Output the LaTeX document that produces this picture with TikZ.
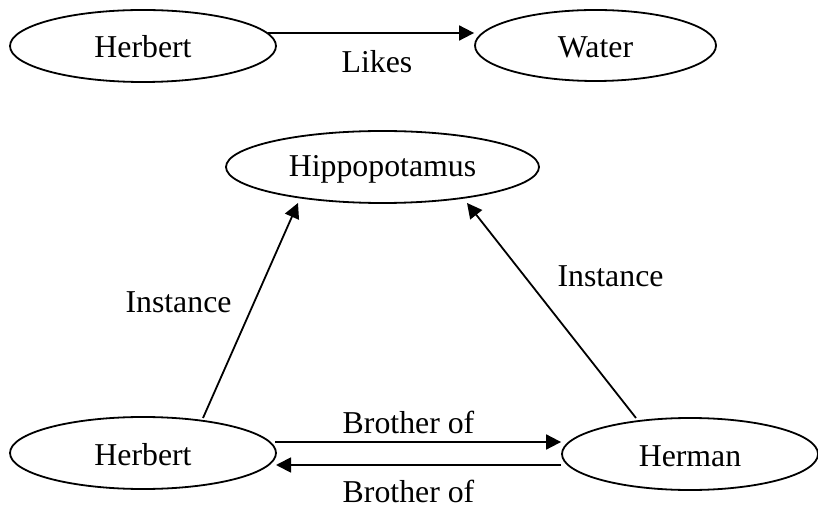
\documentclass[tikz,border=0pt]{standalone}
\usepackage{fontspec}
\setmainfont{Liberation Serif}
\usetikzlibrary{shapes.geometric,arrows.meta,calc}
\begin{document}
\begin{tikzpicture}[x=0.5pt,y=-0.5pt,
  every node/.style={font=\fontsize{15.9}{19}\selectfont},
  oval/.style={draw,ellipse,line width=0.9pt,inner sep=0pt,text height=12pt,text depth=0pt,minimum height=36pt},
  arr/.style={line width=0.9pt,-{Triangle[length=7.5pt,width=7.5pt]}},
  lbl/.style={anchor=base,inner sep=0pt}]
\useasboundingbox (0,0) rectangle (818,507);
\node[oval,minimum width=133pt] (h1) at (143,46) {Herbert};
\node[oval,minimum width=120.5pt,minimum height=35.5pt] (water) at (595.5,45.5) {Water};
\node[oval,minimum width=156.5pt,text height=10pt] (hippo) at (382.5,167) {Hippopotamus};
\node[oval,minimum width=133pt] (h2) at (143,453) {Herbert};
\node[oval,minimum width=128pt] (herman) at (690,454) {Herman};

\draw[arr] ($(h1.center)+(125,-13)$) -- ($(water.west)+(0,-12.5)$);
\draw[arr] ($(h2.center)+(60,-35)$) -- ($(hippo.center)+(-84.5,36)$);
\draw[arr] ($(herman.center)+(-54,-36)$) -- ($(hippo.center)+(84.5,36)$);
\draw[arr] ($(h2.center)+(132,-11)$) -- ($(herman.west)+(0,-12)$);
\draw[arr] ($(herman.west)+(0,11)$) -- ($(h2.center)+(133,12)$);

\node[lbl] (likes) at (377,73) {Likes};
\node[lbl] (inst1) at (178.5,313) {Instance};
\node[lbl] (inst2) at (610.5,287) {Instance};
\node[lbl] (bro1) at (408.5,433) {Brother of};
\node[lbl] (bro2) at (408.5,502) {Brother of};
\end{tikzpicture}
\end{document}
